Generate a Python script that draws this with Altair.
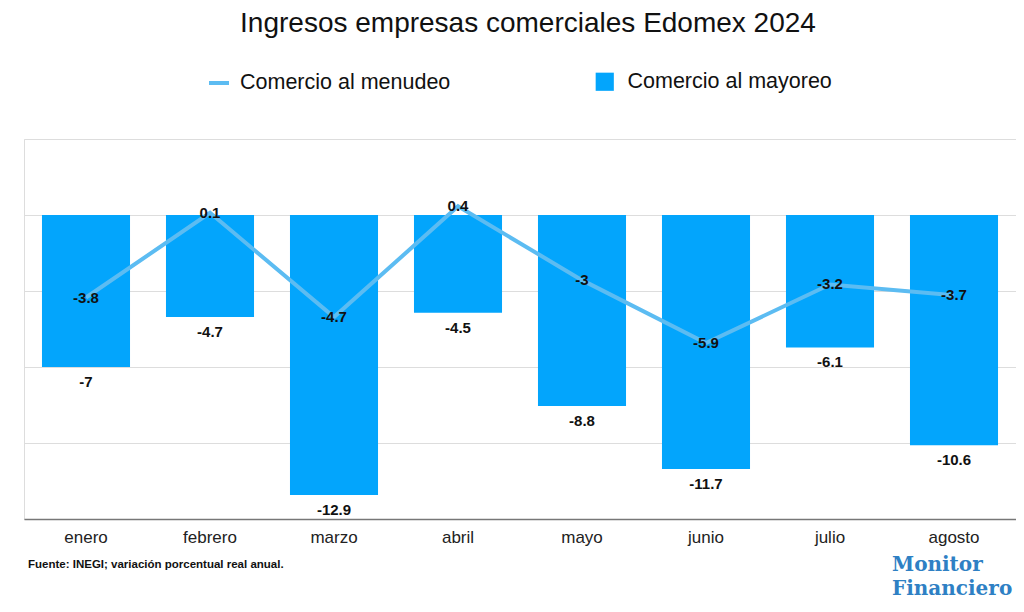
import altair as alt
import pandas as pd

months = ["enero", "febrero", "marzo", "abril", "mayo", "junio", "julio", "agosto"]
mayoreo = [-7, -4.7, -12.9, -4.5, -8.8, -11.7, -6.1, -10.6]
menudeo = [-3.8, 0.1, -4.7, 0.4, -3, -5.9, -3.2, -3.7]
y_ticks = [-14, -10.5, -7, -3.5, 0, 3.5]

title_text = "Ingresos empresas comerciales Edomex 2024"
line_name = "Comercio al menudeo"
bar_name = "Comercio al mayoreo"
source_text = "Fuente: INEGI; variación porcentual real anual."

BAR_C = "#03a5fc"
LINE_C = "#5cbcf2"
FONT = "Liberation Sans"

df = pd.DataFrame({
    "mes": months,
    "mayoreo": mayoreo,
    "menudeo": menudeo,
    "s_line": line_name,
    "s_bar": bar_name,
})

x = alt.X("mes:N", sort=months, title=None,
          scale=alt.Scale(paddingInner=0.29, paddingOuter=0.145),
          axis=alt.Axis(labelAngle=0, labelFontSize=17, labelColor="#222222",
                        labelFont=FONT, labelPadding=10, ticks=False,
                        domainColor="#777777", domainWidth=1.5, grid=False))
yscale = alt.Scale(domain=[-14, 3.5], nice=False, zero=False)

base = alt.Chart(df).transform_calculate(
    lab_may="toString(datum.mayoreo)",
    lab_men="toString(datum.menudeo)",
)

bars = base.mark_bar(cornerRadius=0).encode(
    x=x,
    y=alt.Y("mayoreo:Q", scale=yscale, title=None,
            axis=alt.Axis(values=y_ticks, labels=False, ticks=False, domain=False,
                          gridColor="#dddddd", gridWidth=1)),
    fill=alt.Fill("s_bar:N", title=None,
                  scale=alt.Scale(domain=[bar_name], range=[BAR_C]),
                  legend=alt.Legend(orient="none", legendX=570, legendY=-68,
                                    symbolType="square", symbolSize=330,
                                    labelFontSize=21.5, labelFont=FONT, labelLimit=0,
                                    labelColor="#111111", labelOffset=12,
                                    symbolStrokeWidth=0)),
)

bar_labels = base.mark_text(fontSize=15, fontWeight="bold", font=FONT,
                            baseline="middle", dy=15, color="#111111").encode(
    x=alt.X("mes:N", sort=months),
    y=alt.Y("mayoreo:Q", scale=yscale),
    text=alt.Text("lab_may:N"),
)

line = base.mark_line(strokeWidth=4).encode(
    x=alt.X("mes:N", sort=months),
    y=alt.Y("menudeo:Q", scale=yscale),
    stroke=alt.Stroke("s_line:N", title=None,
                      scale=alt.Scale(domain=[line_name], range=[LINE_C]),
                      legend=alt.Legend(orient="none", legendX=183, legendY=-68,
                                        symbolType="stroke", symbolSize=400,
                                        symbolStrokeWidth=4,
                                        labelFontSize=21.5, labelFont=FONT, labelLimit=0,
                                        labelColor="#111111", labelOffset=9)),
)

line_labels = base.mark_text(fontSize=15, fontWeight="bold", font=FONT,
                             baseline="middle", color="#111111").encode(
    x=alt.X("mes:N", sort=months),
    y=alt.Y("menudeo:Q", scale=yscale),
    text=alt.Text("lab_men:N"),
)

source = alt.Chart(pd.DataFrame({"t": [source_text]})).mark_text(
    align="left", baseline="middle", fontSize=11.5, fontWeight="bold", font=FONT,
    color="#111111").encode(x=alt.value(4), y=alt.value(426), text="t:N")

logo1 = alt.Chart(pd.DataFrame({"t": ["Monitor"]})).mark_text(
    align="left", baseline="middle", fontSize=20, fontWeight="bold",
    font="DejaVu Serif", color="#2e80c4").encode(
    x=alt.value(868), y=alt.value(426), text="t:N")
logo2 = alt.Chart(pd.DataFrame({"t": ["Financiero"]})).mark_text(
    align="left", baseline="middle", fontSize=20, fontWeight="bold",
    font="DejaVu Serif", color="#2e80c4").encode(
    x=alt.value(868), y=alt.value(450), text="t:N")

chart = alt.layer(bars, bar_labels, line, line_labels, source, logo1, logo2).resolve_legend(
    fill="independent", stroke="independent"
).properties(
    width=992, height=380,
    autosize=alt.AutoSizeParams(type="none"),
    padding={"left": 16, "top": 131, "right": 0, "bottom": 80},
    title=alt.Title(title_text, fontSize=28, fontWeight="normal", font=FONT,
                    color="#111111", anchor="middle", offset=33, dx=8),
).configure_view(stroke=None).configure(background="white")

chart.save("out.html", embed_options={"renderer": "svg", "actions": False})
